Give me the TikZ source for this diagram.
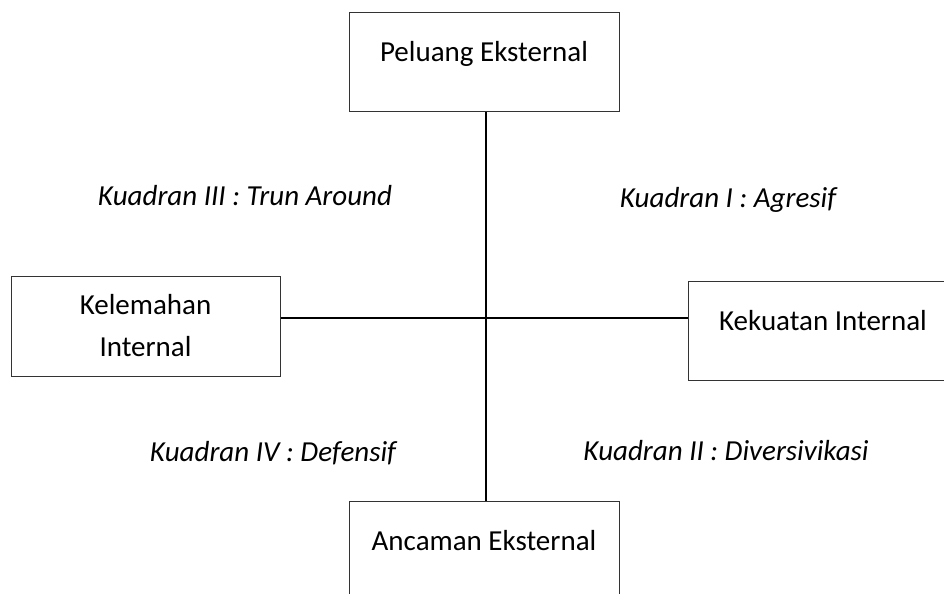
\documentclass[tikz,border=0pt]{standalone}
\usepackage{fontspec}
\setmainfont{Carlito}
\usepackage{tikz}
\usetikzlibrary{positioning,calc}

\begin{document}
\begin{tikzpicture}[x=0.5pt, y=-0.5pt,
  kotak/.style={draw=black!80, line width=0.5pt, minimum width=135pt, minimum height=49.5pt,
    inner sep=0pt, font=\fontsize{14.5}{21}\selectfont, text height=0.7em, text depth=0.7em},
  kotak2/.style={draw=black!80, line width=0.5pt, minimum width=134.5pt, minimum height=50pt,
    inner sep=0pt, align=center, font=\fontsize{14.5}{21}\selectfont},
  sumbu/.style={line width=1pt},
  kuadran/.style={font=\fontsize{14.5}{18}\selectfont\itshape, inner sep=0pt}]
  \useasboundingbox (0,0) rectangle (944,594);
  \clip (0,0) rectangle (944,594);

  % Faktor eksternal
  \node[kotak] (peluang) at (484, 61.5) {Peluang Eksternal};
  \node[kotak] (ancaman) at (484, 550.5) {Ancaman Eksternal};

  % Faktor internal
  \node[kotak2] (kelemahan) at (145.5, 326) {Kelemahan\\Internal};
  \node[kotak] (kekuatan) at (823, 330.5) {Kekuatan Internal};

  % Sumbu
  \coordinate (pusat) at (486, 318);
  \draw[sumbu] (peluang.south -| pusat) -- (ancaman.north -| pusat);
  \draw[sumbu] (kelemahan.east |- pusat) -- (kekuatan.west |- pusat);

  % Kuadran
  \node[kuadran] (k3) at (245, 196) {Kuadran III : Trun Around};
  \node[kuadran] (k1) at (728, 200) {Kuadran I : Agresif};
  \node[kuadran] (k4) at (273, 453) {Kuadran IV : Defensif};
  \node[kuadran] (k2) at (726, 451) {Kuadran II : Diversivikasi};
\end{tikzpicture}
\end{document}
